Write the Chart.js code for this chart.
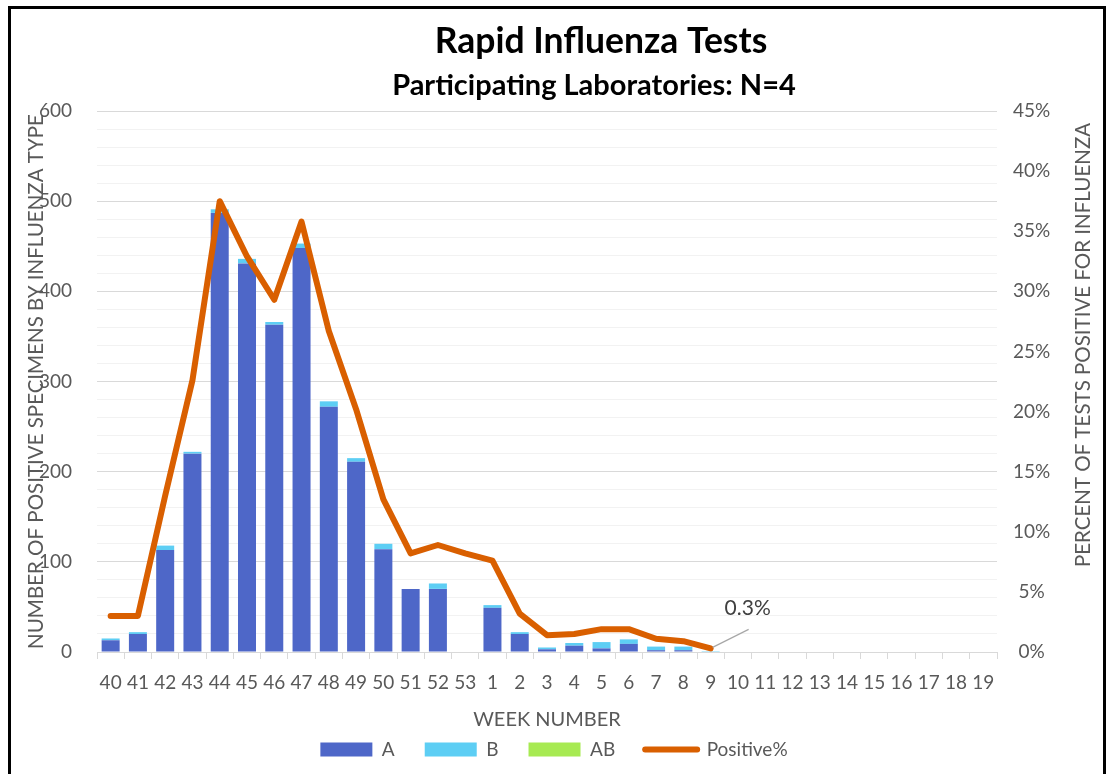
<!DOCTYPE html>
<html><head><meta charset="utf-8">
<script src="https://cdn.jsdelivr.net/npm/chart.js@4.4.1/dist/chart.umd.min.js"></script>
<style>
html,body{margin:0;padding:0;background:#fff;}
#wrap{position:absolute;left:0;top:0;width:1108px;height:774px;overflow:hidden;}
#frame{position:absolute;left:8px;top:6px;width:1098px;height:800px;border:3px solid #000;box-sizing:border-box;pointer-events:none;}
canvas{position:absolute;left:0;top:0;}
</style></head><body>
<div id="wrap"><canvas id="c" width="1108" height="774"></canvas><div id="frame"></div></div>
<script>
// ---- data ----
const weeks = ['40','41','42','43','44','45','46','47','48','49','50','51','52','53',
  '1','2','3','4','5','6','7','8','9','10','11','12','13','14','15','16','17','18','19'];
const fluA = [13,20,113,220,487,431,363,448,272,211,114,70,70,0,
  49,20,3,7,4,9,2,2,0,0,0,0,0,0,0,0,0,0,0];
const fluB = [2,2,5,2,4,5,3,5,6,4,6,0,6,0,
  3,2,2,3,7,5,4,4,1,0,0,0,0,0,0,0,0,0,0];
const fluAB = [0,0,0,0,0,0,0,0,0,0,0,0,0,0,
  0,0,0,0,0,0,0,0,0,0,0,0,0,0,0,0,0,0,0];
const positivePct = [3.0,3.0,13.0,22.6,37.5,32.9,29.3,35.8,26.7,20.2,12.7,8.2,8.9,8.2,
  7.6,3.2,1.4,1.5,1.9,1.9,1.1,0.9,0.3,null,null,null,null,null,null,null,null,null,null];
const seriesNames = ['A','B','AB','Positive%'];
const titleText = 'Rapid Influenza Tests';
const subtitleText = 'Participating Laboratories: N=4';
const leftAxisTitle = 'NUMBER OF POSITIVE SPECIMENS BY INFLUENZA TYPE';
const rightAxisTitle = 'PERCENT OF TESTS POSITIVE FOR INFLUENZA';
const xAxisTitle = 'WEEK NUMBER';

// ---- styles ----
const FONT = 'Lato';
const GREY = '#595959';
const colA = '#4E67C8', colB = '#5DCEF4', colAB = '#A7EA52', colLine = '#D95F00';

const overlay = {
  id: 'overlay',
  afterDraw(chart) {
    const ctx = chart.ctx, a = chart.chartArea;
    ctx.save();
    ctx.textAlign = 'center'; ctx.textBaseline = 'middle';
    ctx.fillStyle = '#000';
    ctx.font = 'bold 35.5px ' + FONT;
    ctx.fillText(titleText, 601, 42);
    ctx.font = 'bold 29px ' + FONT;
    ctx.fillText(subtitleText, 594, 86);
    // axis titles
    ctx.fillStyle = GREY;
    ctx.font = '20.5px ' + FONT;
    ctx.save();
    ctx.translate(a.left - 61, (a.top + a.bottom) / 2);
    ctx.rotate(-Math.PI / 2);
    ctx.fillText(leftAxisTitle, 0, 0);
    ctx.restore();
    ctx.save();
    ctx.translate(a.right + 86, a.top + 234);
    ctx.rotate(-Math.PI / 2);
    ctx.fillText(rightAxisTitle, 0, 0);
    ctx.restore();
    ctx.font = '20px ' + FONT;
    ctx.fillText(xAxisTitle, (a.left + a.right) / 2, a.bottom + 68);
    // data label for last line point
    const meta = chart.getDatasetMeta(3);
    let idx = -1;
    positivePct.forEach((v, i) => { if (v !== null) idx = i; });
    const pt = meta.data[idx];
    if (pt) {
      ctx.strokeStyle = '#A6A6A6'; ctx.lineWidth = 1.2;
      ctx.beginPath();
      ctx.moveTo(pt.x + 2, pt.y - 1);
      ctx.lineTo(pt.x + 38, pt.y - 19);
      ctx.stroke();
      ctx.fillStyle = '#404040';
      ctx.font = '21px ' + FONT;
      ctx.fillText(positivePct[idx].toFixed(1) + '%', pt.x + 37, pt.y - 40);
    }
    ctx.restore();
  }
};

new Chart(document.getElementById('c'), {
  type: 'bar',
  data: {
    labels: weeks,
    datasets: [
      { label: seriesNames[0], data: fluA, backgroundColor: colA, yAxisID: 'y', order: 1, barPercentage: 0.66, categoryPercentage: 1 },
      { label: seriesNames[1], data: fluB, backgroundColor: colB, yAxisID: 'y', order: 1, barPercentage: 0.66, categoryPercentage: 1 },
      { label: seriesNames[2], data: fluAB, backgroundColor: colAB, yAxisID: 'y', order: 1, barPercentage: 0.66, categoryPercentage: 1 },
      { label: seriesNames[3], type: 'line', data: positivePct, yAxisID: 'y1', order: 0,
        borderColor: colLine, backgroundColor: colLine, borderWidth: 6, pointRadius: 0,
        tension: 0, borderJoinStyle: 'round', borderCapStyle: 'round', spanGaps: false }
    ]
  },
  options: {
    responsive: false, animation: false, devicePixelRatio: 1,
    layout: { padding: { top: 111, left: 0, right: 0, bottom: 5 } },
    plugins: {
      tooltip: { enabled: false },
      title: { display: false },
      legend: {
        position: 'bottom',
        labels: {
          sort: (a, b) => a.datasetIndex - b.datasetIndex,
          usePointStyle: true, pointStyleWidth: 52, boxHeight: 14, padding: 30,
          color: GREY, font: { size: 19, family: FONT },
          generateLabels(chart) {
            const items = Chart.defaults.plugins.legend.labels.generateLabels(chart);
            items.forEach(it => {
              const ds = chart.data.datasets[it.datasetIndex];
              if (ds.type === 'line') {
                it.pointStyle = 'line'; it.lineWidth = 6; it.strokeStyle = ds.borderColor;
                it.fillStyle = ds.borderColor; it.lineCap = 'round';
              } else {
                it.pointStyle = 'rect'; it.lineWidth = 0;
              }
            });
            return items;
          }
        }
      }
    },
    scales: {
      x: {
        stacked: true, offset: true,
        grid: { offset: true, drawOnChartArea: false, drawTicks: true, tickLength: 7, color: '#D9D9D9' },
        border: { color: '#D9D9D9', width: 1 },
        ticks: { autoSkip: false, maxRotation: 0, minRotation: 0, color: GREY, padding: 12, font: { size: 19, family: FONT } },
        afterFit(s) { s.height = 58; }
      },
      y: {
        stacked: true, position: 'left', min: 0, max: 600,
        grid: { drawTicks: false, color: c => (c.tick && c.tick.value % 100 === 0) ? '#D9D9D9' : '#F2F2F2', lineWidth: 1 },
        border: { display: false },
        ticks: { stepSize: 20, autoSkip: false, padding: 25, color: GREY, font: { size: 19, family: FONT },
          callback: v => (v % 100 === 0 ? String(v) : '') },
        afterFit(s) { s.width = 97; }
      },
      y1: {
        position: 'right', min: 0, max: 45,
        grid: { display: false, drawTicks: false },
        border: { display: false },
        ticks: { stepSize: 5, autoSkip: false, padding: 16, crossAlign: 'center', color: GREY, font: { size: 19, family: FONT },
          callback: v => v + '%' },
        afterFit(s) { s.width = 111; }
      }
    }
  },
  plugins: [overlay]
});
</script>
</body></html>
